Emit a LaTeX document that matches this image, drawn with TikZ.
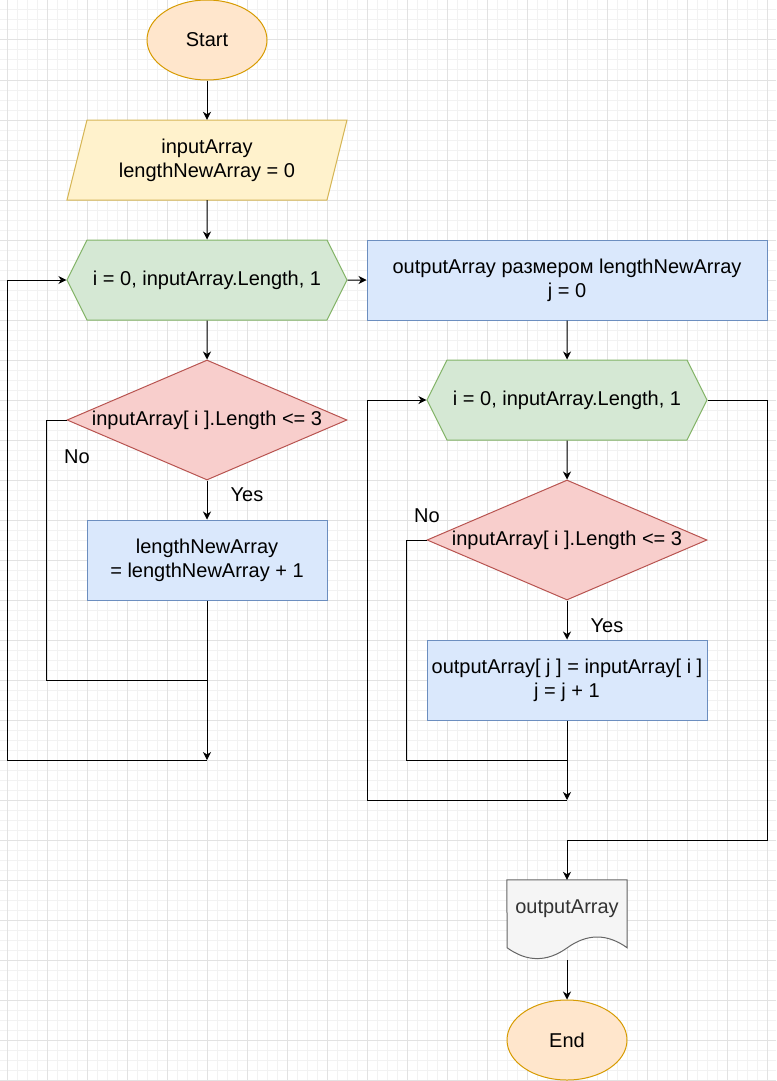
\documentclass[tikz,border=0pt]{standalone}
\usepackage{fontspec}
\setmainfont{Liberation Sans}
\usetikzlibrary{shapes.geometric,shapes.symbols,arrows.meta}

\definecolor{termfill}{HTML}{FFE6CC}
\definecolor{termline}{HTML}{D79B00}
\definecolor{iofill}{HTML}{FFF2CC}
\definecolor{ioline}{HTML}{D6B656}
\definecolor{hexfill}{HTML}{D5E8D4}
\definecolor{hexline}{HTML}{82B366}
\definecolor{actfill}{HTML}{DAE8FC}
\definecolor{actline}{HTML}{6C8EBF}
\definecolor{chkfill}{HTML}{F8CECC}
\definecolor{chkline}{HTML}{B85450}
\definecolor{docfill}{HTML}{F5F5F5}
\definecolor{docedge}{HTML}{666666}
\definecolor{doctext}{HTML}{333333}
\definecolor{gridminor}{HTML}{F2F2F2}
\definecolor{gridmajor}{HTML}{E2E2E2}

\begin{document}
\begin{tikzpicture}[x=1pt, y=-1pt, font=\fontsize{20}{24}\selectfont,
		every node/.append style={align=center, inner sep=0pt},
		flow/.style={draw=black, line width=1pt, -{Stealth[length=8pt, width=8pt, inset=2.5pt]}},
		link/.style={draw=black, line width=1pt},
		terminal/.style={ellipse, draw=termline, fill=termfill, line width=1pt, minimum width=120pt, minimum height=80pt},
		inout/.style={rectangle, minimum width=280pt, minimum height=80pt},
		loophex/.style={signal, signal to=east and west, signal pointer angle=126.87, draw=hexline, fill=hexfill, line width=1pt, minimum width=280pt, minimum height=80pt},
		check/.style={diamond, aspect=2.333, draw=chkline, fill=chkfill, line width=1pt, minimum width=280pt, minimum height=120pt},
		action/.style={rectangle, draw=actline, fill=actfill, line width=1pt, minimum height=80pt},
		docbox/.style={rectangle, minimum width=120pt, minimum height=80pt}]
		% page and grid
		\useasboundingbox (0,0) rectangle (776,1081);
		\fill[white] (0,0) rectangle (776,1081);
		\foreach \gx in {7,17,...,776} \draw[gridminor, line width=1pt] (\gx,0) -- (\gx,1081);
		\foreach \gy in {0,10,...,1081} \draw[gridminor, line width=1pt] (0,\gy) -- (776,\gy);
		\foreach \gx in {7,47,...,776} \draw[gridmajor, line width=1pt] (\gx,0) -- (\gx,1081);
		\foreach \gy in {0,40,...,1081} \draw[gridmajor, line width=1pt] (0,\gy) -- (776,\gy);

		% first pass: count
		\node[terminal] (start) at (207,40) {Start};
		\draw[draw=ioline, fill=iofill, line width=1pt] (67,200) -- (327,200) -- (347,120) -- (87,120) -- cycle;
		\node[inout] (input) at (207,160) {inputArray\\lengthNewArray = 0};
		\node[loophex] (loopA) at (207,280) {i = 0, inputArray.Length, 1};
		\node[check] (checkA) at (207,420) {inputArray[ i ].Length <= 3};
		\node[action, minimum width=240pt] (countA) at (207,560) {lengthNewArray\\= lengthNewArray + 1};
		\node (yesA) at (247,495) {Yes};
		\node (noA) at (77,457) {No};
		\coordinate (joinA) at (207,680);
		\coordinate (endA) at (207,760);

		% second pass: copy
		\node[action, minimum width=400pt] (init) at (567,280) {outputArray размером lengthNewArray\\j = 0};
		\node[loophex] (loopB) at (567,400) {i = 0, inputArray.Length, 1};
		\node[check] (checkB) at (567,540) {inputArray[ i ].Length <= 3};
		\node[action, minimum width=280pt] (copyB) at (567,680) {outputArray[ j ] = inputArray[ i ]\\j = j + 1};
		\node (noB) at (427,516) {No};
		\node (yesB) at (607,626) {Yes};
		\coordinate (joinB) at (567,760);
		\coordinate (endB) at (567,800);
		\coordinate (exitB) at (567,840);

		% output and end
		\node[docbox] (result) at (567,920) {};
		\draw[draw=docedge, fill=docfill, line width=1pt] (result.north west) -- (result.north east) -- ++(0,68)
			.. controls +(-20,-14.4) and +(20,-14.4) .. ++(-60,0)
			.. controls +(-20,14.4) and +(20,14.4) .. ++(-60,0) -- cycle;
		\node[text=doctext] (resultlbl) at (567,909) {outputArray};
		\node[terminal] (stop) at (567,1040) {End};

		\draw[flow] (start) -- (input);
		\draw[flow] (input) -- (loopA);
		\draw[flow] (loopA) -- (init);
		\draw[flow] (loopA) -- (checkA);
		\draw[flow] (checkA) -- (countA);
		\draw[link] (checkA.west) -- ++(-20,0) |- (joinA);
		\draw[flow] (countA) -- (endA);
		\draw[flow] (endA) -- ++(-200,0) |- (loopA.west);

		\draw[flow] (init) -- (loopB);
		\draw[flow] (loopB) -- (checkB);
		\draw[flow] (checkB) -- (copyB);
		\draw[link] (checkB.west) -- ++(-20,0) |- (joinB);
		\draw[flow] (copyB) -- (endB);
		\draw[flow] (endB) -- ++(-200,0) |- (loopB.west);
		\draw[flow] (loopB.east) -- ++(60,0) |- (exitB) -- (result.north);
		\draw[flow] (result.south) -- (stop);
	\end{tikzpicture}
\end{document}
